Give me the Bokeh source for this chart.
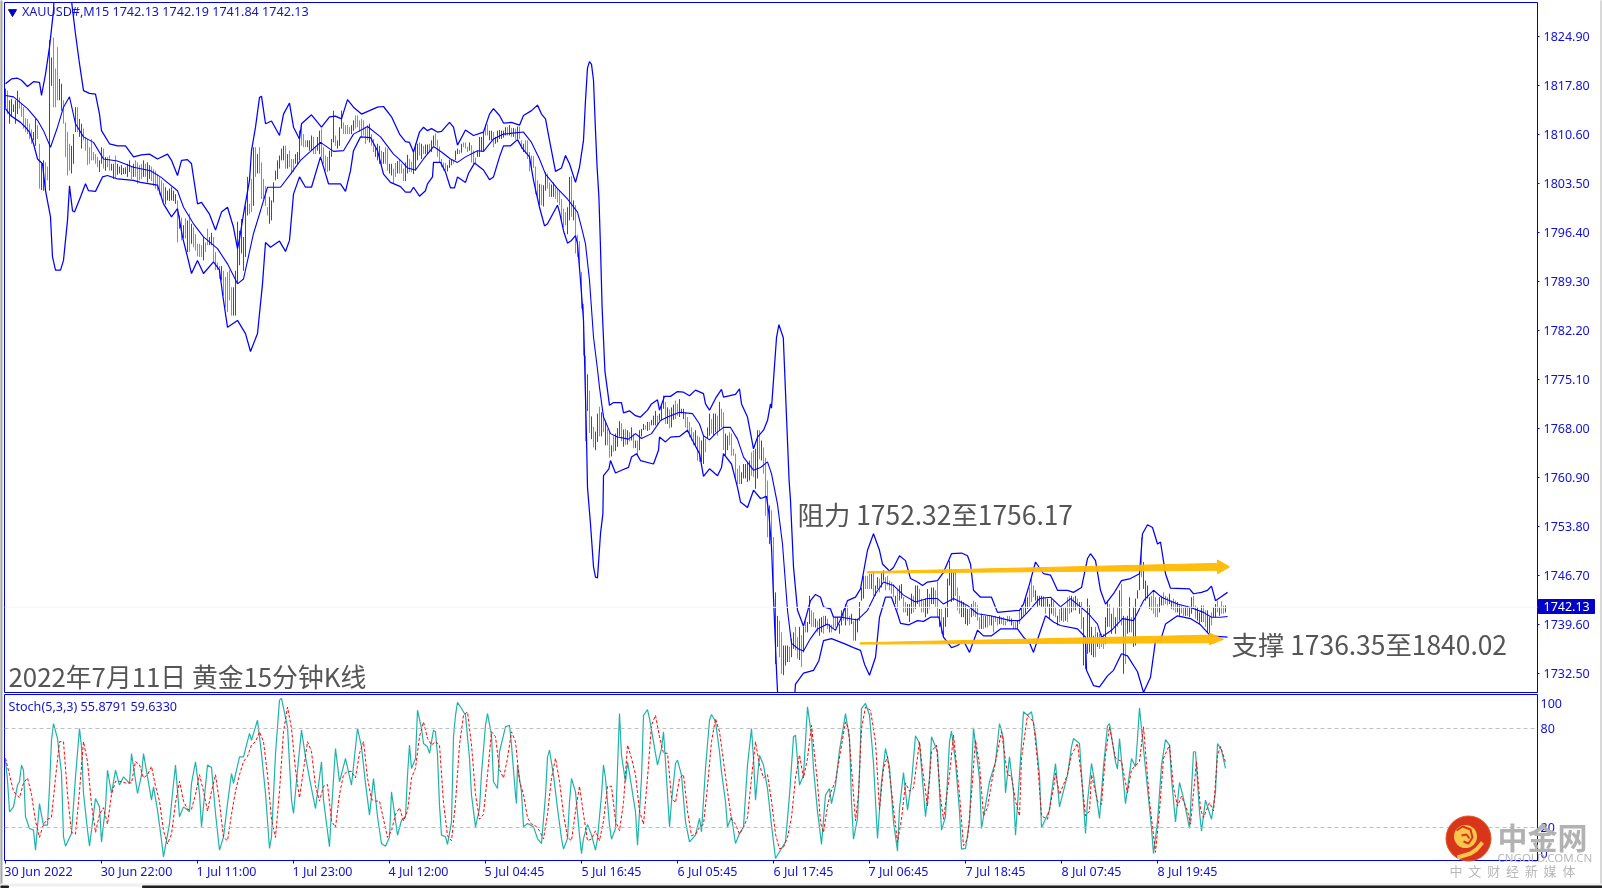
from bokeh.plotting import figure
from bokeh.layouts import column
from bokeh.models import Range1d, FixedTicker, Label, Span, ColumnDataSource, LinearAxis
from bokeh.embed import file_html
from bokeh.resources import INLINE

BLUE = "#0000e6"
TICK = "#1010d8"
CJK = "Noto Sans CJK SC"
LATIN = "Noto Sans"

price_ticks = [1732.5,1739.6,1746.7,1753.8,1760.9,1768.0,1775.1,1782.2,1789.3,1796.4,1803.5,1810.6,1817.7,1824.8]
price_labels = ["1732.50","1739.60","1746.70","1753.80","1760.90","1768.00","1775.10","1782.20","1789.30","1796.40","1803.50","1810.60","1817.80","1824.90"]
time_ticks = [0,48,96,144,192,240,288,336,384,432,480,528,576]
time_labels = ["30 Jun 2022","30 Jun 22:00","1 Jul 11:00","1 Jul 23:00","4 Jul 12:00","5 Jul 04:45","5 Jul 16:45","6 Jul 05:45","6 Jul 17:45","7 Jul 06:45","7 Jul 18:45","8 Jul 07:45","8 Jul 19:45"]
time_label_widths = [68,72,60,60,60,60,62,62,62,60,62,62,62]

upper_x = [0,3,6,8,11,14,17,18,20,22,24,25,29,33,35,37,39,42,45,47,48,52,56,60,64,68,72,76,81,83,86,88,91,93,96,98,102,105,108,111,114,116,117,119,122,123,125,127,128,130,133,137,139,142,144,147,148,153,158,162,165,168,171,174,178,186,189,193,197,200,202,204,207,209,211,213,216,218,222,224,226,230,234,239,242,244,247,249,253,257,259,263,266,268,270,272,275,278,280,282,285,287,289,290,291,292,293,294,295,295.8,296.7,297.5,298.3,299.7,300.8,302,304,308,309,312,315,317.5,321,323,326,327,329.5,332.5,336,339,342,345,349,350,352,355,358,359,365,367,368,371,374,376,379,381,382.5,383,385.5,386.7,388.9,391.8,392.5,394,396,399,402.5,405,407.5,409,412.5,414,418,421,425,427.5,431,434,437,438.5,442,444,447,450,452.5,456,458.5,461,466,469,473,478,481,482.5,484,487.5,493,496,507,509,512,515,519,522.5,526,531,534,538,541,542.5,545,547.5,550,554,558,562.5,567,568.5,571,573.5,576,577.5,580,582.5,592,594,598,601,603,605,607.5,611]
upper_y = [1818,1818.7,1818.8,1818.5,1817.6,1818.3,1818.2,1816.3,1819.4,1823.3,1828.6,1835,1835,1830,1825.2,1820.9,1817,1816.6,1816.5,1813.6,1811.2,1809.3,1809,1809,1807.4,1807.7,1807.8,1807.1,1807.8,1806.9,1804.7,1806.9,1807,1806.4,1800.6,1800.8,1799.1,1796.8,1799.4,1800.1,1797.2,1794.1,1795.5,1799.1,1804,1808.3,1811.7,1816,1816.2,1812.2,1812.6,1810.5,1813.6,1815.2,1811.7,1810,1812.2,1813.5,1811.7,1813.2,1813.3,1812.9,1815.7,1814.6,1813.6,1814.6,1814.7,1813.2,1810.7,1809.6,1809.5,1808.1,1811,1811.7,1811.2,1811.5,1811,1811.1,1812.4,1811.7,1809.1,1811.3,1810.5,1811,1813.6,1814.4,1813.4,1812.3,1812.4,1812,1813.4,1814.1,1814.9,1813.6,1812.9,1809.8,1805.3,1805.8,1807.6,1806.4,1803.7,1805.9,1809.8,1815.6,1820.3,1821.2,1820.8,1818.5,1811.2,1805.9,1801.6,1794.3,1785.6,1776.4,1774,1771.4,1771.8,1771.8,1770.3,1770.6,1769.9,1769.7,1770.7,1771.6,1772.2,1770.7,1772.7,1772.7,1773.4,1773.3,1772.8,1773.6,1773.1,1771.6,1770.7,1772.4,1773.7,1772.6,1773,1773.8,1771.6,1769.7,1765.1,1766.8,1767.8,1769.2,1771.6,1771,1781.2,1783.1,1781.2,1760.5,1757.6,1748,1741.7,1739.4,1743.1,1744,1743.6,1742.2,1741.9,1740.7,1740.7,1743.1,1743.6,1744.8,1750.4,1752.8,1750.4,1748.4,1747.4,1747.9,1749.6,1748.9,1746.3,1745.8,1745.3,1745.8,1746,1747.2,1749.9,1750,1749.6,1748.4,1744.6,1743.6,1743.6,1741.4,1741.7,1742.6,1745.5,1748.7,1747,1746.8,1744.6,1744.6,1744.3,1745,1749.2,1749.9,1748.9,1744.6,1742.6,1744.1,1746,1746.3,1747,1752.8,1754.1,1753.7,1751.3,1751.6,1747,1744.9,1744.8,1744.1,1744.3,1744.6,1745.2,1743.1,1743.6,1744.3]

mid_x = [0,4,11,16,19,22.5,26,29,32,35,39,44,49,56,64,72.5,77.5,86,89,94,99,106,111,116,119,124,127.5,131,137.5,142.5,147.5,157.5,164,169,174,181,187.5,194,197.5,201,205,209,214,218,222.5,226,230,236,239,244,249,259,263,267,270,276,281,286,288,290,292,294,296,297,299,302.5,306,311.5,315,318,323,327.5,331,337,343.5,347,349,352,355,359,362.5,366,369,374,377.5,381,383,386,388.5,391,393,396.5,399,402.5,406,411,415,418,426,431,435,439,444,449,455,461,466,469,474,481,486,492.5,502.5,507,511,517,522.5,527.5,532.5,537.5,541.5,546,548,553,558.5,564,569,574,578,586,592.5,599,603,607.5,611]
mid_y = [1816.3,1816.1,1814.4,1812.7,1811.2,1808.8,1811.7,1814.6,1816.1,1812.2,1810.3,1809.5,1807.1,1806.8,1805.9,1805.4,1804.5,1802.5,1800.1,1797.7,1795.8,1794.1,1791.9,1789,1789.7,1796.3,1799.6,1803,1803,1804.9,1806.9,1809.5,1808.2,1808.3,1810.7,1811.8,1810.3,1807.8,1806.9,1805.8,1805.5,1807.1,1808.9,1808.1,1807.1,1806.6,1807.4,1808.3,1808.2,1810,1810.7,1811,1809.5,1807.1,1804.9,1802.8,1801.3,1799.4,1797.2,1794.8,1789.5,1781.3,1776.6,1774,1769.7,1767.3,1766.8,1766.5,1767.3,1766.6,1767.3,1769.2,1769.7,1770.4,1770.2,1768.7,1767,1766.4,1767.3,1768.2,1768.2,1766.5,1763.9,1762,1762.4,1763.2,1761.5,1757.1,1751.3,1741.7,1736.9,1736.1,1735.8,1737.6,1739,1739.7,1738.8,1740.7,1740.3,1741.7,1744.1,1745.8,1745.3,1743.9,1742.9,1743.4,1743.4,1742.6,1743.4,1742.4,1741.2,1740.9,1740.2,1740.2,1741.4,1743.4,1743.6,1742.2,1743.4,1742.2,1741.2,1739.7,1737.8,1738.8,1740.5,1740.2,1743.1,1744.6,1743.6,1742.6,1742.1,1741.4,1740.7,1740.7,1740.8]

lower_x = [0,2.5,7.5,10,12,14,16,18.5,20,22.5,23.5,25,27.5,29,31,32,33.5,34.5,37.5,40,41.5,45,48.5,51,56,64,67.5,76,79,83,86,88.5,91,93,96,99,104,107,108.5,111,116,120,122.5,126,128.5,130,132.5,137,140,142,144,147,150,153,157.5,161.5,167.5,170,172.5,174,177.5,182.5,186,189,192.5,197.5,200,202.5,204,207,210,211,213.5,214,217.5,220,222.5,224.5,226,230,231.5,234.5,239,242,244,247,249,252.5,256,258.5,262,264,267,269.5,271,274.5,276,277,279,281,283,285,286,287.5,289,289.5,290.5,291,292.5,294,295,296,297.5,298.7,299,301.7,302.5,305,308,311.5,313,315.5,317.5,324,326.5,327,330,332.5,337,341,343.5,347,349,352,356,358,359,363,366,367.5,371,374,377.5,380.5,381.7,383,384,385.5,386,388,391,394.7,395,399,404,406.7,409,413,420,424,427.5,429.5,432,435,437,440,443,446,447.5,451.7,456,459,462.5,466.7,469,473,476,479,482,486,489,493,497.5,506,509,512,514,517,520,524,527.5,536,540,540.5,544,547,551,554,558,561,566,569,572.5,575,577.5,580,586,592.5,597.5,602.5,607.5,611]
lower_y = [1814.4,1813.4,1812.4,1811.7,1811,1809.3,1807.1,1806.4,1802.5,1798.7,1792.9,1791,1791,1792.4,1798.2,1803.2,1799.6,1799.4,1801.6,1803.5,1802.5,1802.4,1804.5,1804.7,1804.2,1804,1803.7,1803.3,1800.6,1798.7,1799.9,1795.8,1792.9,1790.5,1792.4,1790.5,1792.2,1791,1787.6,1782.7,1783.7,1781.8,1779.2,1781.8,1789,1795,1794.3,1795.2,1793.7,1795.3,1802,1804.5,1803,1803,1807.4,1803.5,1803.5,1802.4,1805.4,1808.3,1810.3,1810.2,1808.3,1804.9,1803.7,1803.1,1802.3,1802.3,1803,1801.7,1802.5,1803.5,1804.5,1806.6,1806.6,1805.2,1802.9,1802.9,1804.5,1803.7,1805,1806.5,1805.5,1804.1,1804.5,1807.4,1809,1809,1809.9,1808.6,1807.4,1804,1800.1,1797.4,1797.7,1799.6,1800.4,1799.4,1796.7,1794.9,1795.3,1796,1794.8,1789.5,1783.7,1778.4,1766.8,1759.5,1754.2,1748,1746.5,1746.4,1752.8,1755.7,1761.2,1762.2,1763.4,1761.6,1762,1762.4,1763.9,1764.4,1763.4,1762.9,1764.9,1766.8,1766.1,1766.8,1766.9,1767.8,1766.3,1764.4,1761.1,1762.2,1761.2,1762.4,1764.4,1762.9,1759.5,1757.4,1756.6,1759.1,1757.9,1758.2,1755.7,1750.9,1743.6,1733,1730,1724,1724,1729.8,1731,1732.6,1733,1734.4,1737.3,1737.6,1736.8,1736.3,1735.9,1733.9,1732.3,1734.9,1740.7,1743.6,1743.6,1741.2,1739.8,1739.6,1740.2,1740.1,1740.7,1740.7,1737.8,1736.3,1736.6,1737.3,1735.6,1738.8,1738,1738,1739,1739,1737.8,1737,1735.6,1738.3,1740.9,1740,1739.5,1739,1737.8,1733,1730.8,1730.6,1732.2,1733,1735.4,1735.1,1732.8,1729.8,1732,1737.3,1737.3,1739.7,1740.9,1740.5,1739.6,1738,1737.9,1737.8]

bar_high = [
1817.3,1817.0,1815.6,1815.8,1815.0,1815.6,1817.0,1816.0,1815.1,1814.6,
1813.0,1812.9,1812.2,1811.4,1811.0,1812.9,1812.0,1809.3,1806.4,1806.9,
1806.6,1806.0,1824.3,1821.8,1824.7,1820.2,1823.3,1818.7,1818.0,1815.6,
1812.4,1811.0,1809.3,1809.0,1810.7,1814.6,1814.6,1812.9,1812.2,1811.5,
1810.3,1810.0,1808.8,1810.0,1808.1,1807.8,1807.4,1806.9,1808.8,1808.6,
1807.4,1807.4,1807.6,1806.4,1806.4,1807.6,1806.4,1806.0,1806.2,1805.8,
1805.9,1806.4,1806.9,1806.0,1806.4,1806.9,1806.6,1806.2,1806.4,1806.9,
1806.4,1806.6,1806.2,1806.0,1805.6,1805.4,1804.9,1804.5,1804.0,1803.6,
1803.0,1802.5,1802.8,1803.0,1802.5,1802.0,1801.1,1798.9,1798.6,1797.5,
1798.5,1798.2,1799.2,1797.7,1797.2,1796.2,1794.8,1794.8,1794.6,1795.8,
1795.0,1797.0,1795.8,1796.4,1795.8,1793.6,1792.1,1791.6,1791.6,1790.9,
1790.0,1790.7,1791.0,1788.5,1788.5,1790.9,1798.0,1796.7,1798.4,1795.8,
1800.3,1804.5,1800.6,1804.2,1808.8,1808.8,1807.8,1808.8,1806.6,1804.2,
1803.2,1800.1,1801.6,1801.1,1803.7,1805.4,1806.9,1807.6,1808.6,1809.0,
1809.0,1807.8,1808.3,1807.1,1807.1,1807.8,1808.1,1811.2,1812.0,1810.7,
1809.8,1809.8,1809.8,1810.5,1810.3,1809.0,1810.3,1811.2,1811.5,1808.8,
1807.6,1807.4,1808.3,1810.0,1814.1,1810.5,1809.8,1811.7,1814.1,1812.4,
1812.0,1812.0,1811.7,1812.0,1812.7,1813.4,1813.4,1812.7,1812.9,1812.7,
1811.7,1812.0,1812.2,1810.7,1810.0,1808.8,1809.3,1809.0,1808.3,1808.1,
1808.8,1808.6,1806.4,1806.4,1805.7,1806.5,1806.8,1807.0,1806.4,1805.7,
1806.6,1807.7,1807.1,1806.7,1808.1,1809.3,1809.3,1809.5,1809.3,1809.0,
1809.2,1809.2,1809.3,1809.8,1810.5,1810.8,1809.9,1808.9,1807.1,1806.6,
1806.5,1806.2,1807.0,1807.0,1807.0,1808.3,1808.6,1808.4,1809.3,1809.5,
1809.5,1808.9,1809.5,1809.1,1808.3,1807.3,1808.2,1810.3,1810.3,1811.0,
1812.1,1812.1,1811.2,1811.2,1811.0,1810.3,1811.2,1811.3,1811.2,1811.2,
1811.7,1811.7,1812.0,1811.6,1811.6,1811.5,1811.8,1811.8,1809.8,1809.3,
1809.8,1809.8,1808.1,1807.6,1807.5,1806.0,1804.0,1803.5,1803.4,1803.3,
1805.2,1805.0,1803.7,1803.4,1803.7,1803.0,1802.8,1802.5,1801.3,1799.9,
1799.4,1800.1,1804.5,1804.6,1801.1,1800.4,1796.1,1795.2,1790.7,1786.1,
1778.6,1775.9,1773.5,1769.8,1768.3,1767.6,1770.2,1771.2,1770.4,1770.2,
1769.2,1768.0,1767.5,1765.6,1767.0,1767.3,1768.1,1769.1,1768.8,1767.9,
1768.0,1767.8,1767.5,1768.2,1767.3,1766.3,1766.3,1767.8,1768.0,1768.7,
1768.5,1769.0,1769.0,1769.3,1769.9,1770.6,1769.9,1770.2,1771.6,1772.8,
1771.9,1771.1,1770.8,1771.1,1771.5,1772.1,1771.6,1772.3,1770.9,1770.9,
1770.4,1769.7,1769.0,1768.2,1767.5,1767.8,1767.0,1766.8,1766.3,1767.0,
1766.6,1768.2,1770.2,1769.4,1770.2,1770.2,1769.9,1771.9,1770.9,1770.4,
1767.3,1767.0,1767.5,1767.3,1765.1,1764.4,1762.2,1762.7,1761.7,1762.9,
1762.9,1763.2,1763.4,1764.6,1764.9,1765.1,1767.8,1767.8,1766.3,1765.3,
1763.8,1760.5,1756.9,1756.2,1752.3,1744.3,1740.9,1740.2,1738.5,1736.6,
1736.6,1736.6,1736.4,1737.6,1738.5,1739.3,1737.8,1739.3,1738.1,1739.3,
1740.2,1740.0,1743.8,1741.7,1741.4,1740.5,1740.2,1740.5,1740.7,1740.9,
1740.9,1740.5,1739.7,1739.6,1740.7,1740.7,1740.7,1739.7,1741.7,1741.9,
1742.6,1742.4,1740.9,1741.2,1740.2,1740.5,1740.5,1742.9,1745.0,1746.7,
1746.7,1746.7,1747.0,1747.0,1747.2,1745.3,1746.5,1746.3,1747.2,1747.5,
1746.5,1746.7,1746.0,1745.8,1745.5,1743.8,1744.8,1745.3,1745.5,1743.6,
1742.9,1742.6,1742.6,1744.1,1743.8,1745.3,1745.3,1744.8,1743.4,1743.1,
1743.4,1744.8,1744.1,1745.0,1745.0,1744.6,1745.8,1741.9,1741.9,1740.7,
1742.2,1746.3,1748.9,1747.7,1747.2,1747.2,1745.0,1743.8,1743.1,1742.9,
1742.4,1741.9,1741.9,1742.6,1743.1,1742.9,1742.4,1740.7,1741.2,1740.9,
1740.9,1740.9,1740.9,1740.9,1740.9,1740.9,1740.7,1740.9,1740.7,1740.7,
1740.2,1740.9,1740.9,1740.5,1740.0,1740.0,1740.2,1741.7,1742.4,1742.2,
1743.6,1743.6,1745.0,1746.3,1745.3,1744.6,1743.8,1743.8,1743.8,1743.7,
1743.6,1743.4,1742.6,1743.4,1743.1,1742.2,1740.9,1741.9,1742.2,1742.2,
1742.2,1743.6,1743.8,1743.8,1743.6,1743.8,1743.4,1742.9,1742.9,1740.7,
1736.8,1743.4,1742.4,1739.3,1738.0,1739.3,1738.5,1738.3,1738.3,1738.3,
1740.7,1743.1,1742.6,1741.2,1742.2,1740.7,1742.2,1744.6,1745.5,1740.9,
1740.7,1740.9,1743.6,1740.7,1742.2,1743.4,1744.6,1748.2,1752.3,1748.7,
1746.0,1745.3,1743.6,1743.8,1744.6,1743.6,1742.6,1743.6,1743.8,1744.3,
1743.8,1743.6,1744.1,1743.1,1743.4,1743.1,1742.9,1742.4,1742.4,1742.2,
1742.2,1742.4,1742.2,1743.6,1743.8,1742.4,1742.2,1741.4,1742.4,1742.4,
1741.7,1741.7,1740.7,1741.4,1742.2,1742.6,1743.1,1742.2,1743.0,1742.4,
1742.4]

bar_low = [
1814.4,1813.6,1812.2,1813.2,1813.9,1812.2,1813.6,1814.4,1813.2,1811.5,
1811.0,1810.7,1810.0,1809.3,1809.8,1809.0,1810.0,1802.8,1802.6,1802.5,
1802.5,1804.0,1802.5,1817.7,1814.6,1814.6,1815.6,1815.6,1814.1,1812.2,
1807.4,1804.7,1805.4,1805.0,1806.4,1811.0,1811.0,1810.3,1808.6,1809.8,
1808.3,1806.2,1806.4,1806.9,1806.9,1806.4,1805.9,1805.2,1806.4,1805.7,
1805.4,1805.9,1805.4,1805.4,1804.2,1804.2,1804.8,1805.0,1804.8,1804.9,
1804.9,1804.5,1805.2,1804.2,1804.5,1804.5,1803.5,1804.0,1804.2,1804.5,
1804.5,1803.7,1804.2,1803.9,1803.2,1802.8,1802.5,1801.9,1801.4,1800.9,
1800.5,1801.1,1801.0,1801.1,1801.0,1800.6,1795.0,1797.0,1795.3,1795.6,
1795.6,1793.6,1793.6,1794.8,1794.3,1793.8,1793.0,1792.9,1792.9,1792.4,
1793.6,1794.6,1794.6,1794.6,1792.2,1791.0,1791.0,1789.7,1789.5,1787.3,
1785.6,1784.9,1786.6,1784.4,1784.4,1784.4,1789.0,1791.7,1793.4,1790.9,
1792.9,1798.9,1799.1,1799.4,1800.3,1804.5,1805.0,1805.0,1801.3,1801.3,
1800.3,1798.9,1797.7,1798.2,1800.8,1804.0,1804.2,1805.7,1806.9,1806.9,
1805.7,1805.7,1805.9,1804.9,1805.2,1806.4,1806.4,1806.9,1809.0,1808.8,
1808.8,1808.8,1808.3,1808.3,1807.8,1807.8,1808.3,1807.8,1807.4,1806.4,
1805.4,1805.2,1805.4,1807.4,1809.5,1809.0,1808.6,1809.0,1811.5,1810.7,
1810.7,1810.7,1810.7,1810.7,1811.2,1811.5,1811.7,1811.0,1810.3,1810.5,
1809.3,1809.8,1809.5,1809.0,1808.1,1807.4,1806.9,1806.4,1806.2,1806.4,
1806.4,1805.4,1805.0,1804.7,1803.5,1804.5,1805.0,1805.0,1805.0,1803.9,
1803.9,1805.0,1805.2,1805.2,1804.9,1805.4,1806.9,1807.6,1807.1,1807.8,
1807.8,1807.8,1808.1,1808.1,1809.0,1809.0,1807.4,1806.6,1805.9,1805.4,
1805.5,1805.3,1805.8,1806.2,1806.4,1806.9,1807.8,1807.8,1808.0,1808.8,
1808.6,1808.1,1808.3,1806.6,1806.4,1806.4,1807.4,1807.4,1808.2,1808.3,
1810.5,1810.5,1809.8,1809.8,1808.8,1809.3,1809.5,1810.0,1810.0,1810.2,
1810.5,1810.5,1810.5,1810.3,1810.3,1809.9,1810.0,1810.0,1808.6,1808.1,
1807.9,1807.1,1805.3,1805.9,1805.8,1802.0,1801.6,1800.4,1800.4,1800.2,
1802.5,1802.8,1801.6,1801.6,1801.6,1801.3,1800.8,1800.4,1798.2,1797.2,
1797.5,1796.2,1798.2,1798.7,1798.2,1793.4,1792.9,1791.7,1785.4,1778.6,
1766.2,1770.6,1767.4,1766.5,1765.3,1764.9,1766.1,1766.9,1766.9,1767.5,
1765.6,1765.6,1763.8,1764.0,1764.7,1764.8,1765.4,1766.9,1766.2,1765.4,
1765.7,1765.7,1766.2,1766.3,1765.2,1765.2,1764.1,1764.9,1766.9,1767.8,
1767.9,1767.7,1767.8,1768.5,1768.5,1768.5,1768.5,1769.2,1769.2,1770.9,
1768.7,1768.7,1768.1,1768.2,1769.3,1769.4,1769.9,1769.7,1770.2,1769.4,
1768.2,1767.5,1766.8,1766.3,1765.6,1765.6,1763.4,1763.2,1763.2,1762.9,
1764.6,1766.6,1767.0,1767.3,1767.0,1767.5,1767.0,1767.8,1768.2,1764.9,
1764.1,1764.9,1765.6,1764.1,1764.1,1760.8,1760.0,1760.0,1760.0,1760.8,
1760.8,1760.3,1760.5,1761.2,1761.0,1759.3,1760.8,1763.6,1763.4,1761.5,
1755.4,1752.3,1751.3,1750.6,1743.6,1733.9,1736.4,1734.9,1732.5,1732.3,
1733.7,1734.2,1734.2,1734.9,1736.1,1735.9,1734.7,1734.5,1733.5,1735.6,
1738.5,1738.5,1739.7,1739.3,1739.3,1739.2,1738.5,1738.0,1738.5,1738.3,
1739.5,1739.0,1738.5,1738.5,1739.0,1739.2,1739.5,1738.3,1739.5,1740.2,
1739.5,1740.2,1739.5,1739.7,1737.3,1737.3,1738.5,1740.2,1743.1,1743.4,
1744.8,1744.8,1744.8,1744.8,1743.8,1743.8,1744.8,1744.3,1745.0,1746.0,
1744.6,1745.3,1744.6,1744.1,1743.6,1742.6,1741.7,1743.1,1743.4,1741.4,
1741.4,1740.9,1740.0,1741.2,1741.4,1741.9,1742.6,1742.2,1741.4,1741.4,
1740.7,1741.2,1741.9,1742.6,1742.6,1742.2,1740.7,1739.3,1738.3,1737.8,
1739.3,1740.7,1745.3,1742.9,1743.1,1743.8,1741.7,1741.2,1740.7,1740.7,
1739.7,1739.5,1739.7,1740.7,1740.9,1740.7,1740.2,1739.0,1739.0,1739.0,
1739.2,1739.2,1739.5,1739.5,1738.5,1740.0,1739.5,1739.7,1739.7,1739.5,
1739.5,1740.0,1740.0,1739.5,1739.0,1739.0,1739.0,1739.7,1740.5,1740.7,
1741.2,1741.9,1742.2,1742.9,1743.6,1743.1,1742.2,1742.4,1742.2,1742.2,
1741.2,1742.2,1740.5,1741.2,1740.9,1740.7,1739.5,1740.0,1740.2,1740.0,
1740.2,1740.0,1741.2,1741.4,1741.7,1741.7,1742.2,1741.2,1739.0,1733.7,
1733.2,1735.4,1735.6,1735.2,1734.9,1734.9,1736.4,1736.1,1736.4,1736.1,
1736.8,1739.3,1739.3,1738.3,1739.3,1738.3,1739.3,1740.2,1739.5,1732.5,
1733.9,1738.3,1738.5,1738.5,1736.4,1736.6,1743.4,1744.6,1746.5,1744.8,
1743.1,1743.4,1741.9,1741.7,1741.2,1740.7,1740.7,1741.4,1742.4,1742.4,
1742.6,1742.4,1742.6,1741.9,1741.7,1741.4,1741.4,1740.9,1741.2,1740.9,
1740.9,1740.9,1740.7,1741.2,1742.2,1740.5,1740.2,1739.7,1740.0,1740.0,
1739.3,1738.5,1738.3,1739.5,1740.7,1740.7,1741.4,1740.9,1741.2,1741.2,
1741.4]

bar_dir = ("rgrrrrrggg" "ggggrrggrr" "ggrrgggrrg" "gggrrrgrrg" "gggggggrrg"
 "rggrrgrrrr" "rrrgrggggr" "grrggggggg" "rrrrrrgrgr" "grgrgggggr"
 "ggrrggggrg" "ggggrrrrrr" "rrggrgrggg" "ggrrrrrrrr" "grgggrrrgg"
 "grrrggrrgg" "ggrrrgrrrg" "gggrrggggg" "ggrggrrrgr" "ggrrggrggg"
 "rrggrrrgrg" "rrgrrggggg" "grrrgrrgrg" "ggrgggrrrr" "ggrrgrrrrr"
 "rgrgrgrggr" "gggggggrgr" "rggrrggggg" "grrgrggggg" "grgrgrrgrg"
 "rggrgrrrgr" "grgrgrgrrr" "grgrrrgrrr" "grgrrggrrr" "gggggrggrr"
 "grrgrrgrgg" "rrggggggrr" "rrrggrrgrg" "ggrggrrggr" "rrgrrggrgr"
 "grrggrgrrg" "rgrgggrrrg" "rggrgrrrrr" "gggrgrrgrr" "gggggrgrrg"
 "grrrgrrggg" "rrgrrggrgr" "rrrrrgggrr" "rrgrggggrg" "rggrgggrgg"
 "gggrggrgrg" "rrgggrrrrr" "grrrggrgrg" "rggrgrgrgr" "rrrrrgrggg"
 "rrgrgrgrgr" "grrgrrrrgr" "rrrggggrrg" "ggrrggrrgg" "rgrrggrrrg"
 "grrgrrgrgg" "rrg")

stoch_x = [0,1,2,4,6,7,8,9,10,12,14,15,17,18,19,21,22,23,24,26,28,29,30,33,35,37,38,39,41,42,45,47,48,50,51,53,55,57,59,62,63,66,68,69,71,73,74,76,78,79,82,84,85,87,89,92,93,95,97,98,101,103,105,107,109,111,113,114,117,119,122,123,126,128,130,132,133,135,137,138,141,143,144,146,148,150,153,155,158,159,162,163,165,167,170,173,176,178,180,182,184,186,188,190,192,193,196,198,200,201,202,203,205,206,208,209,211,212,214,215,216,217,218,220,221,223,224,225,226,228,230,232,233,235,237,238,240,241,243,244,246,247,249,250,252,253,255,255.5,256,258,259,261,264,266,268,270,271,272,274,276,278,279,281,282,283,285,287,288,289,291,293,295,296,298,299,300,302,303,305,306,307,308,310,311,312,315,316,318,319,321,322,324,326,328,329,330,332,333,335,336,338,340,342,345,347,348,350,352,353,355,357,358,360,361,363,365,367,369,371,373,374,375,377,379,381,383,384,385,387,390,392,394,395,397,399,401,403,404,406,407,408,410,412,413,415,417,418,420,422,423,424,426,427,428,430,432,434,436,438,440,442,444,446,447,449,451,453,455,457,460,462,463,466,468,470,472,473,475,477,478,480,482,483,484,487,488,492,495,497,499,500,502,504,505,507,509,511,513,515,517,518,522,523,525,527,531,533,534,537,540,541,543,544,547,549,551,552,555,556,557,560,563,565,566,567,569,571,573,574,576,578,580,582,583,585,587,589,592,594,595,597,598,600,603,605,606,608,610]
stoch_main = [60.8,48.7,29.5,32.5,45.7,47.7,57.8,54.7,26.5,19.4,18.4,6.3,34.5,27.5,21.4,21.4,44.6,72.9,83,73.9,52.7,14.3,8.7,16.4,50.7,80,68.9,40.6,18.4,8.7,37.6,32.5,11.3,32.5,54.7,40.6,54.7,45.7,50.7,46.7,64.8,40.6,51.7,64.8,50.7,36.6,44.6,30.5,12.3,2.2,22.4,46.7,57.8,26.5,32.5,29.5,46.7,59.8,40.6,20.4,57.8,56.4,28.5,6.3,14.3,34.5,52.7,46.7,62.8,62.8,77,72.9,85,64.8,40.6,7.3,14.3,64.8,97.2,98.2,81,36.6,28.5,54.7,79,62.8,43.6,31.5,59.8,36.6,8.3,30.5,67.9,47.7,61.8,45.7,80,68.9,46.7,27.5,49.7,26.5,10.3,8.7,14.3,41.6,15.3,24.4,26.5,51.7,69.9,55.8,61.8,91.1,80,70.9,68.9,64.9,79,78,63.8,33.5,15.4,14.4,9.7,23.4,74.9,88,95.8,92.1,88,61.8,39.6,20.4,31.5,52.7,82,89.1,76,47.7,43.6,65.9,76,81,82,69.9,39.6,34.5,57.8,41.6,20.4,22.4,20.4,13.3,10.3,39.6,62.8,66.9,51.7,31.5,13.3,6.9,13.3,35.6,49.7,41.6,15.4,4.2,13.3,21.8,15.4,6.3,13.3,39.6,57.8,49.7,21.4,12.9,19.4,55.8,89.1,63.8,47.7,59.8,52.7,29.5,9.3,49.7,88,91.5,86,71.9,57.8,67.9,78,59.8,20.4,35.6,58.8,60.8,51.7,23.4,11.3,15.4,25.5,17.4,55.8,85,88.5,84.4,65.9,53.7,35.6,20.4,26.5,10.3,16.4,20.4,57.8,80,61.8,36.6,63.8,57.8,43.6,21.4,11.3,1.2,5.3,11.3,39.6,75,76,45.7,51.7,93.1,76,55.8,29.5,20.4,9.7,39.6,43.6,34.5,45.7,66.9,73.9,89.1,73.9,35.6,12.9,25.5,53.7,92.1,95.2,88,58.8,13.3,47.7,67.9,56.8,23.4,5.7,31.5,53.3,30.5,47.7,75.6,70.9,26.5,49.7,75,65.9,18.4,26.5,71.9,78.4,59.8,29.5,6.9,7.3,23.4,51.7,80.4,49.7,19.4,47.7,59.8,83,73.9,41,62.8,41.6,15.4,51.7,90.1,88,90.1,76,51.7,19.8,30.5,40.6,58.8,32.5,51.7,68.9,73.9,70.9,16.4,35.6,58.8,51.7,25.5,56.8,81.6,83,59.8,55.4,73.9,34.5,61.8,56.8,73.9,92.5,67.9,43.6,19.4,4.2,23.4,57.8,73.3,69.9,49.7,23.4,47.3,37.6,19.4,65.9,65.9,29.5,17.8,36.6,25,41.6,70.9,66.9,55.9]

signal_x = [0,2,4,7,9,11,13,15,17,19,21,23,25,27,29,31,33,35,37,39,41,43,45,47,49,51,53,55,57,60,63,65,67,69,71,73,75,77,79,81,83,85,87,89,91,93,95,97,99,101,103,105,107,109,111,113,115,117,119,121,123,125,127,129,131,133,135,137,139,141,143,145,147,149,151,153,155,157,159,161,163,165,167,169,171,173,175,177,179,181,183,185,187,189,191,193,195,197,199,201,203,205,207,209,211,213,215,217,219,221,223,225,227,229,231,233,235,237,239,241,243,245,247,249,251,253,255,257,259,261,263,265,267,269,271,273,275,277,279,281,283,285,287,289,291,293,295,297,299,301,303,305,307,309,311,313,315,317,319,321,323,325,327,329,331,333,335,337,339,341,343,345,347,349,351,353,355,357,359,361,363,365,367,369,371,373,375,377,379,381,383,385,387,389,391,393,395,397,399,401,403,406,407.5,409,411,412.5,415,417.5,420,421.5,423.5,425,426.5,428,430,432.5,435,437,439,441,443,446,448,450,452,454,457,458,461,463,465.5,467.5,469,472,474,477,479,481,483,485,487,489,491,493,496,498,501,503,505,507,508,511,514,516,518,521,524,525,527,531,533,536,538,540,542,543,546,548,550,552,555,558,561,563,567,569,572,575,577,579,582,584,586,588,591,592.5,595.5,597.5,599,602,604,606,607.5,610]
signal_y = [62,52,42,38,47,50,40,24,14,22,25,26,50,72,72,40,17,16,42,72,60,34,17,28,32,22,40,48,48,47,47,60,58,50,52,57,45,36,18,10,16,35,48,36,31,31,40,52,42,30,42,52,35,14,12,28,42,52,60,63,70,72,78,72,52,25,14,42,78,93,80,55,38,55,72,66,45,36,45,46,24,20,40,52,54,54,50,65,72,50,37,36,36,25,14,18,28,32,24,30,50,56,75,84,74,70,72,70,35,15,12,35,70,88,90,70,40,25,28,52,78,75,55,50,62,78,72,48,40,26,22,21,18,13,28,50,62,48,28,14,12,30,45,28,12,13,18,12,24,45,45,24,18,35,70,62,52,30,22,50,82,88,75,65,65,38,35,50,52,30,15,16,20,22,45,72,86,78,60,42,25,22,16,20,26,50,72,58,50,52,36,16,7,8,14,26,50,64,50,62,82,47,23,17,33,41,48,66,84,80,48,24,40,80,93,91,72,31,56,63,42,11,25,47,42,44,72,60,33,66,70,38,25,52,76,40,9,13,40,73,58,27,32,47,66,78,52,51,36,27,62,88,84,60,27,25,44,53,40,52,64,71,50,27,30,52,36,34,64,81,62,60,41,55,60,81,36,5,30,62,70,44,33,39,30,22,60,31,26,35,30,64,69,59.6]

upper_arrow_x = [431,606,606,612,606,606,431]
upper_arrow_y = [1747.3,1748.5,1749.0,1748.0,1747.0,1747.5,1747.1]
lower_arrow_x = [427.3,602,602,609,602,602,427.3]
lower_arrow_y = [1737.0,1738.1,1738.4,1737.5,1736.7,1737.0,1736.8]

common = dict(output_backend="svg", toolbar_location=None, width=1602, x_range=Range1d(-0.5, 766))
p = figure(height=693, y_range=Range1d(1729.79, 1829.77), y_axis_location="right",
           min_border_left=4, min_border_right=65, min_border_top=2, min_border_bottom=1, **common)
q = figure(height=195, y_range=Range1d(0, 100.6), y_axis_location="right",
           min_border_left=4, min_border_right=65, min_border_top=1, min_border_bottom=28, **common)

for f in (p, q):
    f.grid.visible = False
    f.outline_line_color = BLUE
    f.outline_line_width = 1
    f.background_fill_color = "white"
    f.border_fill_color = "white"
    f.yaxis.axis_line_color = BLUE
    f.yaxis.major_tick_line_color = BLUE
    f.yaxis.major_tick_in = 0
    f.yaxis.major_tick_out = 2
    f.yaxis.minor_tick_line_color = None
    f.yaxis.major_label_text_color = TICK
    f.yaxis.major_label_text_font = LATIN
    f.yaxis.major_label_text_font_size = "12.5px"

p.xaxis.visible = False
p.yaxis.ticker = FixedTicker(ticks=price_ticks)
p.yaxis.major_label_overrides = dict(zip(price_ticks, price_labels))
p.yaxis.major_label_standoff = 4

stoch_label_pos = [95.3, 80, 20, 4.4]
q.yaxis.ticker = FixedTicker(ticks=stoch_label_pos)
q.yaxis.major_label_overrides = dict(zip(stoch_label_pos, ["100", "80", "20", "0"]))
q.yaxis.major_tick_line_color = None
q.yaxis.major_label_standoff = 1

# true tick marks on the frame's own axis, without text
q.xaxis.ticker = FixedTicker(ticks=time_ticks)
q.xaxis.major_label_overrides = {t: "" for t in time_ticks}
q.xaxis.axis_line_color = BLUE
q.xaxis.major_tick_line_color = BLUE
q.xaxis.major_tick_in = 0
q.xaxis.major_tick_out = 3
q.xaxis.minor_tick_line_color = None
q.xaxis.major_label_text_font_size = "1px"
q.xaxis.major_label_standoff = 0

# the labels start at the tick, so they sit half their width to its right
label_pos = [t + w / 4 - 0.5 for t, w in zip(time_ticks, time_label_widths)]
label_axis = LinearAxis(ticker=FixedTicker(ticks=label_pos),
                        major_label_overrides=dict(zip(label_pos, time_labels)),
                        axis_line_color=None, major_tick_line_color=None, minor_tick_line_color=None,
                        major_tick_out=0, major_tick_in=0, major_label_standoff=-1,
                        major_label_text_color=TICK, major_label_text_font=LATIN,
                        major_label_text_font_size="12.5px")
q.add_layout(label_axis, "below")

# bars
n = min(len(bar_high), len(bar_low), len(bar_dir))
colors = ["#e01010" if c == "r" else "#1edc1e" for c in bar_dir[:n]]
src = ColumnDataSource(dict(x=list(range(n)), hi=bar_high[:n], lo=bar_low[:n], c=colors))
p.segment("x", "lo", "x", "hi", color="c", line_width=1, source=src)
p.line(upper_x, upper_y, color="#0000ff", line_width=1.25)
p.line(mid_x, mid_y, color="#0000ff", line_width=1.1)
p.line(lower_x, lower_y, color="#0000ff", line_width=1.25)
p.add_layout(Span(location=1742.13, dimension="width", line_color="#eefaf6", line_width=1))

p.patch(upper_arrow_x, upper_arrow_y, color="#ffb900", alpha=0.95)
p.patch(lower_arrow_x, lower_arrow_y, color="#ffb900", alpha=0.95)
p.scatter([3.5], [1828.4], marker="inverted_triangle", size=8, color="#0000c8")

def lab(fig, x, y, text, font, size, color, **kw):
    fig.add_layout(Label(x=x, y=y, text=text, text_font=font, text_font_size=size,
                         text_color=color, text_baseline="middle", **kw))

lab(p, 8.2, 1828.4, "XAUUSD#,M15  1742.13 1742.19 1741.84 1742.13", LATIN, "12.6px", "#1414c8")
lab(p, 396, 1755.7, "阻力 1752.32至1756.17", CJK, "26.4px", "#555555")
lab(p, 613, 1736.9, "支撑 1736.35至1840.02", CJK, "26.4px", "#555555")
lab(p, 1.5, 1732.2, "2022年7月11日 黄金15分钟K线", CJK, "25.8px", "#555555")

# stochastic
for lvl in (20, 80):
    q.add_layout(Span(location=lvl, dimension="width", line_color="#c0c0c0", line_width=1, line_dash="4 3"))
q.line(stoch_x, stoch_main, color="#20b2aa", line_width=1.2)
q.line(signal_x, signal_y, color="#ff0000", line_width=1, line_dash="3 2")
lab(q, 1.5, 93.3, "Stoch(5,3,3) 55.8791 59.6330", LATIN, "12.6px", "#1414c8")

# overlay in page pixels: price flag, watermark and window edges lie outside the frames
o = figure(output_backend="svg", toolbar_location=None, width=1602, height=888,
           x_range=Range1d(0, 1602), y_range=Range1d(888, 0), x_axis_type=None, y_axis_type=None,
           min_border_left=0, min_border_right=0, min_border_top=0, min_border_bottom=0,
           outline_line_color=None, background_fill_color=None, border_fill_color=None,
           styles={"position": "fixed", "left": "0px", "top": "0px"})
o.grid.visible = False

flag_left = [1538]; flag_right = [1594]; flag_top = [599]; flag_bottom = [613]
o.quad(left=flag_left, right=flag_right, top=flag_top, bottom=flag_bottom, color="#0000c8")
lab(o, 1543, 606, "1742.13", LATIN, "12.5px", "white")

logo_x = [1468]; logo_y = [838]
o.scatter(logo_x, logo_y, marker="circle", size=45, color="#d8351a", line_color="#e2571f")
o.scatter([1465], [836], marker="circle", size=23, color="#f8c64c", line_color=None)
o.line([1456,1462,1470,1472,1468,1463], [830,826,829,837,843,841], color="#d8351a", line_width=2)
o.line([1457,1470,1476,1482], [857,853,849,842], color="#f8c64c", line_width=4)
o.line([1461,1466,1469], [835,834,838], color="#d8351a", line_width=2)
lab(o, 1497, 835, "中金网", CJK, "30px", "#b2b2b2", text_font_style="bold")
lab(o, 1497, 857, "CNGOLD.COM.CN", LATIN, "11.5px", "#b8b8b8")
lab(o, 1449, 870, "中\u00a0\u00a0文\u00a0\u00a0财\u00a0\u00a0经\u00a0\u00a0新\u00a0\u00a0媒\u00a0\u00a0体", CJK, "13px", "#b8b8b8")

o.quad(left=[0], right=[1.5], top=[0], bottom=[884], color="#a8a8a8")
o.quad(left=[1600], right=[1602], top=[0], bottom=[884], color="#d8d8d8")
o.quad(left=[0], right=[1602], top=[883], bottom=[886], color="#f0f0f0", line_color=None)
o.quad(left=[0], right=[8], top=[885.5], bottom=[887], color="#202020")
o.quad(left=[142], right=[1602], top=[885.5], bottom=[887], color="#202020")

layout = column(p, q, spacing=0, styles={"position": "fixed", "left": "0px", "top": "0px"})
open("out.html", "w").write(file_html([layout, o], INLINE))
